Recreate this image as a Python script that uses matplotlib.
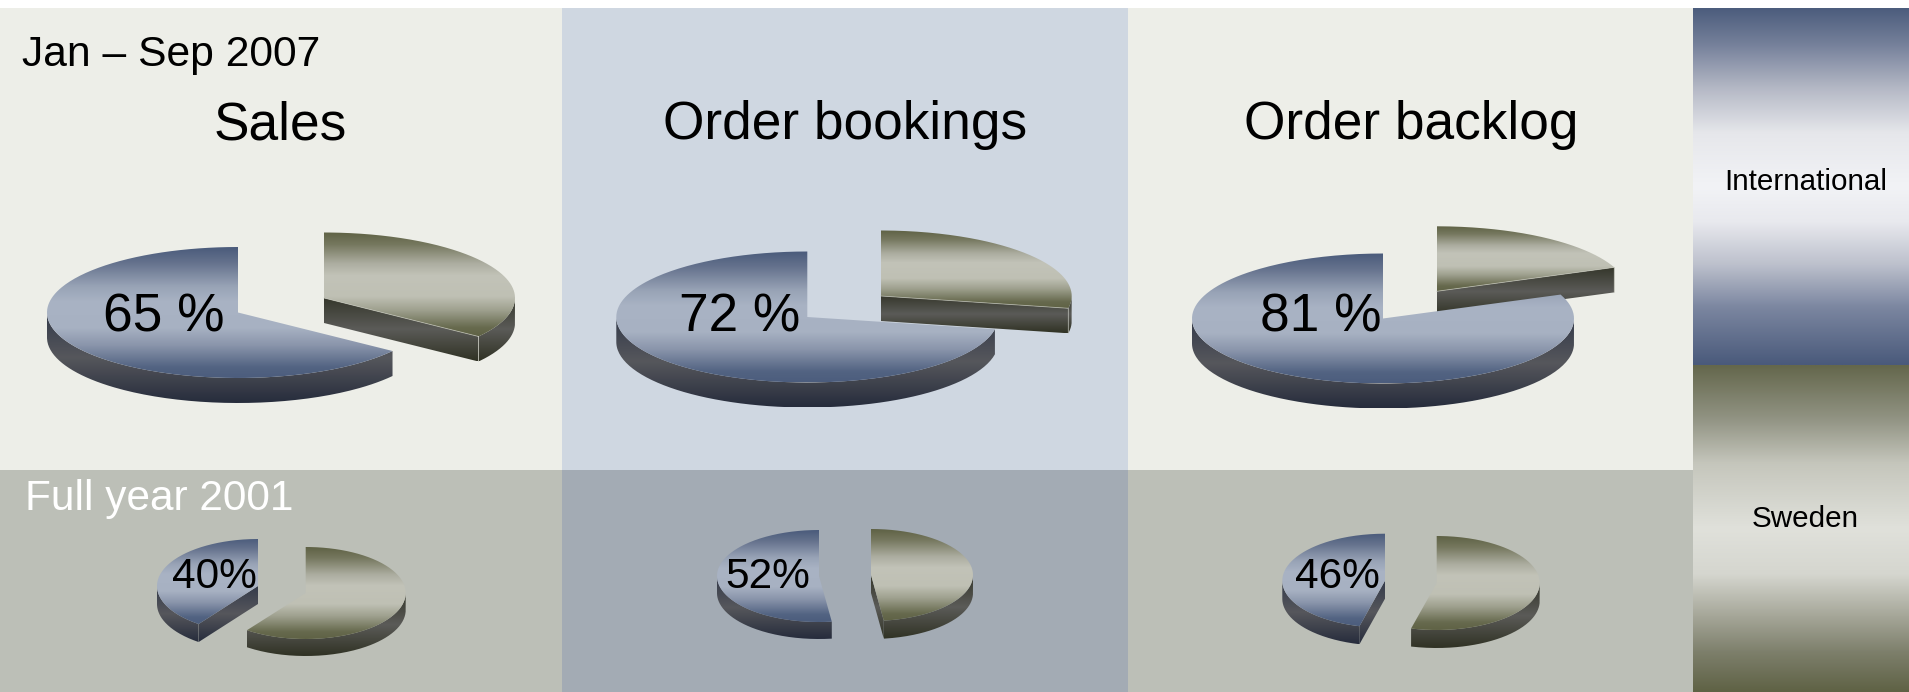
import numpy as np
import matplotlib
matplotlib.use('Agg')
import matplotlib.pyplot as plt
from matplotlib.colors import LinearSegmentedColormap
from matplotlib.path import Path
from matplotlib.patches import PathPatch, Rectangle

plt.rcParams['font.family'] = ['Liberation Sans', 'DejaVu Sans']

# Data
measures = ['Sales', 'Order bookings', 'Order backlog']
period_now = 'Jan \u2013 Sep 2007'
period_old = 'Full year 2001'
intl_2007 = [65, 72, 81]
swe_2007 = [35, 28, 19]
intl_2001 = [40, 52, 46]
swe_2001 = [60, 48, 54]
labels_2007 = ['65 %', '72 %', '81 %']
labels_2001 = ['40%', '52%', '46%']
legend_names = ['International', 'Sweden']

# Layout, in pixels of the picture: cx, cy, rx, ry, depth
big_intl = [(238, 312.5, 191, 65.5, 25), (807.3, 317, 191, 65.5, 25), (1383, 318.5, 191, 65, 25)]
big_swe = [(324, 298, 191, 65.5, 25), (880.7, 296, 191, 65.5, 25), (1436.7, 291.3, 191, 65, 25)]
small_intl = [(258, 586, 101, 47, 18), (819, 576, 102, 46, 17), (1385, 580.7, 102.7, 47, 18)]
small_swe = [(305.7, 593, 100, 46, 17), (871, 575, 102, 46, 18), (1436.7, 583, 103, 47, 18)]
intl_on_top = [False, False, True]

label_x_big = [103, 679, 1260]
label_x_small = [172, 725.5, 1295.5]
title_x = [280, 845, 1411]

W, H = 1909, 692
panel_x = [0, 562, 1128, 1693]
top_y, split_y, legend_split = 8, 470, 365

# Colours
intl_face = [(0, '#4a5b7b'), (.12, '#65728d'), (.3, '#98a3b6'), (.42, '#a9b3c4'), (.62, '#a7b1c2'),
             (.75, '#8a95ab'), (.92, '#526382'), (1, '#4c5d7d')]
swe_face = [(0, '#5f6245'), (.12, '#76785f'), (.3, '#acada0'), (.42, '#c2c3b8'), (.62, '#bfc0b4'),
            (.75, '#9fa18f'), (.92, '#676a4e'), (1, '#5f6245')]
intl_wall = [(0, '#333a4a'), (.5, '#56575c'), (1, '#262c3c')]
swe_wall = [(0, '#34362a'), (.5, '#5b5b58'), (1, '#303224')]
intl_key = [(0, '#4c5d7d'), (.1, '#75809a'), (.225, '#b5b9c6'), (.35, '#e6e7eb'), (.5, '#f2f3f6'),
            (.6, '#e8e9ee'), (.72, '#bcc0cc'), (.84, '#7b86a0'), (1, '#4a5a7b')]
swe_key = [(0, '#64674c'), (.165, '#929484'), (.3, '#c5c6bc'), (.5, '#e0e1db'), (.64, '#d5d6cf'),
           (.77, '#a5a698'), (.88, '#7d7f6b'), (1, '#5f6245')]

fig = plt.figure(figsize=(W / 100, H / 100), dpi=100)
ax = fig.add_axes([0, 0, 1, 1])
ax.axis('off')

z = [5]


def gradient_fill(path, stops):
    # vertical gradient over the bbox of the path, clipped to it
    cmap = LinearSegmentedColormap.from_list('g', stops, N=256)
    x0, y0 = path.vertices.min(axis=0)
    x1, y1 = path.vertices.max(axis=0)
    grad = np.linspace(0, 1, 256).reshape(-1, 1)
    im = ax.imshow(grad, cmap=cmap, extent=(x0, x1, y1, y0), aspect='auto', zorder=z[0],
                   interpolation='bilinear', vmin=0, vmax=1)
    patch = PathPatch(path, transform=ax.transData, fc='none', ec='none')
    im.set_clip_path(patch)
    z[0] += 1


def arc(cx, cy, rx, ry, a0, a1, n=120):
    t = np.radians(np.linspace(a0, a1, n))
    return np.column_stack([cx + rx * np.cos(t), cy - ry * np.sin(t)])


def closed(pts):
    return Path(np.vstack([pts, pts[0]]), closed=False)


def cut_wall(cx, cy, rx, ry, d, theta):
    t = np.radians(theta)
    px, py = cx + rx * np.cos(t), cy - ry * np.sin(t)
    return closed(np.array([[cx, cy], [px, py], [px, py + d], [cx, cy + d]]))


def draw_slice(box, share, is_intl, edge_line=False):
    cx, cy, rx, ry, d = box
    sweep = share * 3.6
    if is_intl:
        a0, a1 = 90, 90 + sweep
        face, wall = intl_face, intl_wall
    else:
        a0, a1 = 90 - sweep, 90
        face, wall = swe_face, swe_wall
    # the cut side facing the viewer
    cut = a1 if is_intl else a0
    facing = np.cos(np.radians(cut)) < 0 if is_intl else np.cos(np.radians(cut)) > 0
    if facing:
        gradient_fill(cut_wall(cx, cy, rx, ry, d, cut), wall)
    # outer rim, front half only
    shift = 360 if a0 < 0 else 0
    lo, hi = max(a0 + shift, 180), min(a1 + shift, 360)
    if hi > lo:
        top = arc(cx, cy, rx, ry, lo, hi)
        low = arc(cx, cy + d, rx, ry, hi, lo)
        gradient_fill(closed(np.vstack([top, low])), wall)
    # top face
    rim = arc(cx, cy, rx, ry, a0, a1, 240)
    gradient_fill(closed(np.vstack([[cx, cy], rim])), face)
    if edge_line and facing:
        t = np.radians(cut)
        px, py = cx + rx * np.cos(t), cy - ry * np.sin(t)
        ax.plot([cx, px, px], [cy, py, py + d], color='#c9cabf', lw=0.6, alpha=0.7, zorder=z[0], solid_joinstyle='miter')
        z[0] += 1


# Background panels
top_cols = ['#edeee8', '#cfd7e1', '#edeee8']
low_cols = ['#bcbfb7', '#a3abb4', '#bcbfb7']
for i in range(3):
    ax.add_patch(Rectangle((panel_x[i], top_y), panel_x[i + 1] - panel_x[i], split_y - top_y, fc=top_cols[i], ec='none', zorder=1))
    ax.add_patch(Rectangle((panel_x[i], split_y), panel_x[i + 1] - panel_x[i], H - split_y, fc=low_cols[i], ec='none', zorder=1))

# Legend strips
gradient_fill(closed(np.array([[panel_x[3], top_y], [W, top_y], [W, legend_split], [panel_x[3], legend_split]], dtype=float)), intl_key)
gradient_fill(closed(np.array([[panel_x[3], legend_split], [W, legend_split], [W, H], [panel_x[3], H]], dtype=float)), swe_key)

# Pies
for i in range(3):
    if intl_on_top[i]:
        draw_slice(big_swe[i], swe_2007[i], False, edge_line=True)
        draw_slice(big_intl[i], intl_2007[i], True)
    else:
        draw_slice(big_intl[i], intl_2007[i], True)
        draw_slice(big_swe[i], swe_2007[i], False, edge_line=True)
    draw_slice(small_intl[i], intl_2001[i], True)
    draw_slice(small_swe[i], swe_2001[i], False)

ax.set_xlim(0, W)
ax.set_ylim(H, 0)

# Text
tz = 500
ax.text(22, 66, period_now, fontsize=30.7, color='black', va='baseline', zorder=tz)
ax.text(25, 510, period_old, fontsize=30.5, color='white', va='baseline', zorder=tz)
for i in range(3):
    ax.text(title_x[i], 139, measures[i], fontsize=38.3, ha='center', va='baseline', zorder=tz)
    ax.text(label_x_big[i], 332, labels_2007[i], fontsize=38.3, va='baseline', zorder=tz)
    ax.text(label_x_small[i], 588, labels_2001[i], fontsize=30.5, va='baseline', zorder=tz)
ax.text(1806, 190, legend_names[0], fontsize=21.3, ha='center', va='baseline', zorder=tz)
ax.text(1805.5, 527, legend_names[1], fontsize=21.3, ha='center', va='baseline', zorder=tz)

fig.savefig('out.png', dpi=100)
